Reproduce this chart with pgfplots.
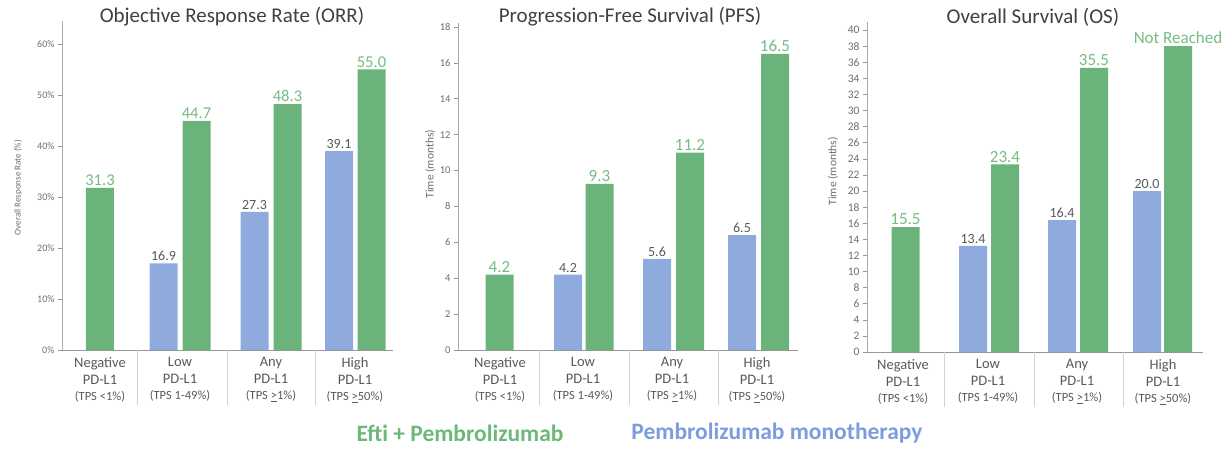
\documentclass[border=0pt]{standalone}
\usepackage{fontspec}
\setmainfont{Carlito}
\usepackage{pgfplots}
\pgfplotsset{compat=1.18}
\definecolor{bargreen}{RGB}{106,180,124}
\definecolor{barblue}{RGB}{143,170,220}
\definecolor{labgreen}{RGB}{116,188,132}
\definecolor{labgray}{RGB}{89,89,89}
\definecolor{tickgray}{RGB}{110,110,110}
\definecolor{axgray}{RGB}{150,150,150}
\definecolor{titlegray}{RGB}{64,64,64}
\definecolor{leggreen}{RGB}{108,184,122}
\definecolor{legblue}{RGB}{125,156,222}
\pgfplotsset{
  panel/.style={
    scale only axis, anchor=south west, clip=false,
    axis x line*=bottom, axis y line*=left,
    x axis line style={draw=axgray, line width=1pt},
    y axis line style={draw=axgray!80, line width=0.6pt},
    ymin=0,
    xtick style={draw=none},
    major tick length=4pt, tick align=outside,
    ytick style={draw=axgray, line width=0.5pt},
    yticklabel style={text=tickgray},
    xticklabel style={align=center, text=labgray, font=\fontsize{14.5}{16.5}\selectfont},
    extra x tick style={major tick length=55pt, xtick style={draw=gray!35, line width=0.7pt}},
    extra x tick labels={},
    /pgf/number format/assume math mode=true,
    ylabel style={text=tickgray, rotate=0},
  },
  gbar/.style={ybar, bar width=28, bar shift=0pt, fill=bargreen, draw=none,
    nodes near coords, point meta=explicit symbolic,
    nodes near coords style={text=labgreen, font=\fontsize{16.5}{16.5}\selectfont, inner sep=2pt}},
  bbar/.style={ybar, bar width=28, bar shift=0pt, fill=barblue, draw=none,
    nodes near coords, point meta=explicit symbolic,
    nodes near coords style={text=labgray, font=\fontsize{14}{14}\selectfont, inner sep=2pt}},
}
\newcommand{\tpssize}{\fontsize{12.5}{15}\selectfont}
\begin{document}
\begin{tikzpicture}
\useasboundingbox (0pt,0pt) rectangle (1227pt,448pt);
% ---------- ORR ----------
\begin{axis}[panel, at={(62pt,98pt)}, width=331pt, height=329pt,
  xmin=62, xmax=393, ymax=64.5,
  ytick={0,10,20,30,40,50,60},
  yticklabel={\pgfmathprintnumber{\tick}\%},
  yticklabel style={font=\fontsize{10}{10}\selectfont},
  ylabel={Overall Response Rate (\%)},
  ylabel style={font=\fontsize{9}{9}\selectfont, at={(axis description cs:-0.133,0.494)}, anchor=center},
  xtick={100,180,271,355},
  xticklabels={{Negative\\PD-L1\\{\tpssize (TPS <1\%)}},{Low\\PD-L1\\{\tpssize (TPS 1-49\%)}},{Any\\PD-L1\\{\tpssize (TPS \underline{>}1\%)}},{High\\PD-L1\\{\tpssize (TPS \underline{>}50\%)}}},
  extra x ticks={137,227,315},
]
\addplot[gbar] coordinates {(100,31.8)[31.3] (196.5,44.9)[44.7] (287.5,48.2)[48.3] (371.5,55.0)[55.0]};
\addplot[bbar] coordinates {(163.5,17.0)[16.9] (254.5,27.1)[27.3] (339,39.0)[39.1]};
\end{axis}
% ---------- PFS ----------
\begin{axis}[panel, at={(458pt,98pt)}, width=340pt, height=326.7pt,
  xmin=458, xmax=798, ymax=18.2,
  ytick={0,2,...,18},
  yticklabel style={font=\fontsize{10.5}{10.5}\selectfont},
  ylabel={Time (months)},
  ylabel style={font=\fontsize{11.5}{11.5}\selectfont, at={(axis description cs:-0.082,0.569)}, anchor=center},
  xtick={500,583,672,757},
  xticklabels={{Negative\\PD-L1\\{\tpssize (TPS <1\%)}},{Low\\PD-L1\\{\tpssize (TPS 1-49\%)}},{Any\\PD-L1\\{\tpssize (TPS \underline{>}1\%)}},{High\\PD-L1\\{\tpssize (TPS \underline{>}50\%)}}},
  extra x ticks={539,629,718},
  gbar/.append style={nodes near coords style={font=\fontsize{17}{17}\selectfont}},
]
\addplot[gbar] coordinates {(499.5,4.2)[4.2] (599.5,9.25)[9.3] (690,11.0)[11.2] (775,16.5)[16.5]};
\addplot[bbar] coordinates {(568,4.2)[4.2] (657,5.07)[5.6] (742,6.4)[6.5]};
\end{axis}
% ---------- OS ----------
\begin{axis}[panel, at={(867pt,96pt)}, width=336pt, height=330pt,
  xmin=867, xmax=1203, ymax=41,
  ytick={0,2,...,40},
  yticklabel style={font=\fontsize{11.5}{11.5}\selectfont},
  ylabel={Time (months)},
  ylabel style={font=\fontsize{11.5}{11.5}\selectfont, at={(axis description cs:-0.101,0.548)}, anchor=center},
  xtick={903,988,1077,1163},
  xticklabels={{Negative\\PD-L1\\{\tpssize (TPS <1\%)}},{Low\\PD-L1\\{\tpssize (TPS 1-49\%)}},{Any\\PD-L1\\{\tpssize (TPS \underline{>}1\%)}},{High\\PD-L1\\{\tpssize (TPS \underline{>}50\%)}}},
  extra x ticks={944,1034,1123},
  gbar/.append style={nodes near coords style={font=\fontsize{17}{17}\selectfont}},
]
\addplot[gbar] coordinates {(905.5,15.5)[15.5] (1005,23.3)[23.4] (1094,35.3)[35.5] (1178,38.0)[Not Reached]};
\addplot[bbar] coordinates {(973,13.2)[13.4] (1062,16.4)[16.4] (1147,20.0)[20.0]};
\end{axis}
% ---------- titles and legend ----------
\node[text=titlegray, font=\fontsize{21}{21}\selectfont] at (232pt,431pt) {Objective Response Rate (ORR)};
\node[text=titlegray, font=\fontsize{21}{21}\selectfont] at (630pt,431pt) {Progression-Free Survival (PFS)};
\node[text=titlegray, font=\fontsize{21}{21}\selectfont] at (1033pt,431pt) {Overall Survival (OS)};
\node[text=leggreen, font=\bfseries\fontsize{23.5}{23.5}\selectfont] at (460pt,15pt) {Efti + Pembrolizumab};
\node[text=legblue, font=\bfseries\fontsize{23.5}{23.5}\selectfont] at (777pt,15pt) {Pembrolizumab monotherapy};
\end{tikzpicture}
\end{document}
